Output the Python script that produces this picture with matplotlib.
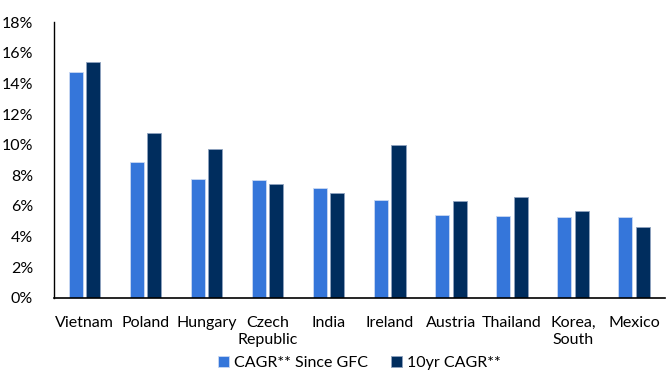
import numpy as np
import matplotlib
matplotlib.use("Agg")
import matplotlib.pyplot as plt
from matplotlib.ticker import FuncFormatter

plt.rcParams['font.family'] = ['Lato', 'DejaVu Sans']

countries = ["Vietnam", "Poland", "Hungary", "Czech\nRepublic", "India",
             "Ireland", "Austria", "Thailand", "Korea,\nSouth", "Mexico"]
cagr_gfc = [14.77, 8.9, 7.74, 7.68, 7.2, 6.39, 5.41, 5.37, 5.3, 5.26]
cagr_10yr = [15.38, 10.78, 9.74, 7.42, 6.85, 10.0, 6.33, 6.57, 5.65, 4.61]
labels = ["CAGR** Since GFC", "10yr CAGR**"]

fig = plt.figure(figsize=(6.66, 3.7), dpi=100)
ax = fig.add_axes([0.081, 0.195, 0.917, 0.745])

x = np.arange(len(countries))
w = 0.23
ax.bar(x - 0.142, cagr_gfc, w, color="#3576DA", edgecolor="#C9D9F2", linewidth=0.6, label=labels[0])
ax.bar(x + 0.142, cagr_10yr, w, color="#002D5E", edgecolor="#8FA3BF", linewidth=0.6, label=labels[1])

ax.set_xlim(-0.5, len(countries) - 0.5)
ax.set_ylim(0, 18)
ax.set_yticks(np.arange(0, 19, 2))
ax.yaxis.set_major_formatter(FuncFormatter(lambda v, p: f"{v:.0f}%"))
ax.set_xticks(x)
ax.set_xticklabels(countries, linespacing=1.3)
ax.tick_params(length=0, labelsize=11.5)
ax.tick_params(axis="x", pad=13)
ax.tick_params(axis="y", pad=15)
for s in ["top", "right"]:
    ax.spines[s].set_visible(False)
ax.spines["left"].set_linewidth(1.0)
ax.spines["bottom"].set_linewidth(1.2)

ax.legend(loc="lower center", bbox_to_anchor=(0.5, -0.315), ncol=2, frameon=False,
          fontsize=11.5, handlelength=0.7, handleheight=0.7, handletextpad=0.3,
          columnspacing=1.4)

fig.savefig("out.png", dpi=100)
